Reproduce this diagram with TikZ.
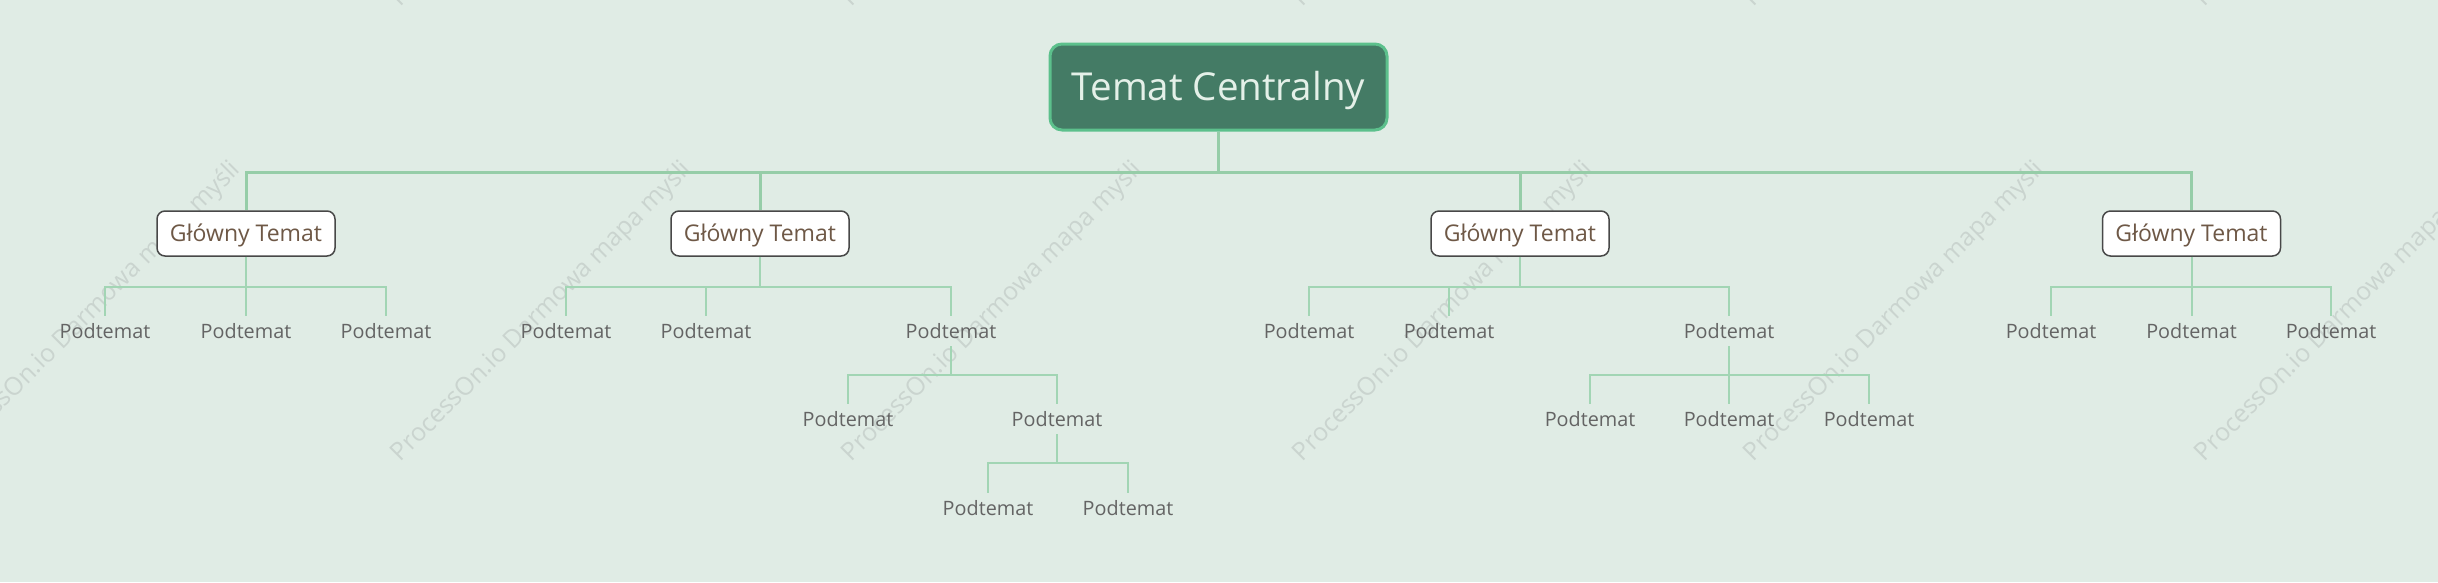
\documentclass[tikz,border=0pt]{standalone}
\usepackage{fontspec}
\setmainfont{Open Sans}
\usepackage{tikz}
\usetikzlibrary{positioning}
\definecolor{bgmint}{RGB}{224,236,229}
\definecolor{rootfill}{RGB}{68,123,101}
\definecolor{rootedge}{RGB}{92,192,140}
\definecolor{roottext}{RGB}{228,240,232}
\definecolor{mainedge}{RGB}{72,72,72}
\definecolor{maintext}{RGB}{110,88,70}
\definecolor{subtext}{RGB}{100,100,100}
\definecolor{linegreen}{RGB}{150,205,168}
\definecolor{sublinegreen}{RGB}{162,213,180}
\definecolor{wmgray}{RGB}{202,212,207}
\tikzset{every picture/.style={line width=0.75pt}}
\tikzset{
  rootbox/.style={draw=rootedge, line width=3, fill=rootfill, rounded corners=12,
    minimum width=337, minimum height=86, inner sep=0, text=roottext,
    text height=27.5, text depth=0, font=\fontsize{38.5}{46}\selectfont},
  mainbox/.style={draw=mainedge, line width=1.5, fill=white, rounded corners=8,
    minimum width=178, minimum height=45, inner sep=0, text=maintext,
    text height=16.5, text depth=0, font=\fontsize{23}{28}\selectfont},
  subtopic/.style={inner sep=0, minimum height=30, text=subtext,
    text height=14, text depth=0, font=\fontsize{19.8}{24}\selectfont},
  mainline/.style={draw=linegreen, line width=3},
  subline/.style={draw=sublinegreen, line width=2},
  watermark/.style={inner sep=0, rotate=45, text=wmgray,
    font=\fontsize{25}{30}\selectfont}
}

\begin{document}
\begin{tikzpicture}[x=1pt,y=1pt,yscale=-1,xscale=1]
    \useasboundingbox (0,0) rectangle (2438,582);
    \fill[bgmint] (0,0) rectangle (2438,582);
    % watermark
    \begin{scope}
    \clip (0,0) rectangle (2438,582);
    \foreach \wx [count=\k] in {91,542,993,1444,1895,2346} {
        \node[watermark] (wm-a\k) at (\wx,312) {ProcessOn.io Darmowa mapa myśli};
        \node[watermark] (wm-b\k) at (\wx,-143) {ProcessOn.io Darmowa mapa myśli};
    }
    \end{scope}
    % topics
    \node[rootbox] (root) at (1218.5,87) {Temat Centralny};
    \node[mainbox] (m1) at (246,233.5) {Główny Temat};
    \node[mainbox] (m2) at (760,233.5) {Główny Temat};
    \node[mainbox] (m3) at (1520,233.5) {Główny Temat};
    \node[mainbox] (m4) at (2191.5,233.5) {Główny Temat};
    % subtopics
    \node[subtopic] (s11) at (105,331) {Podtemat};
    \node[subtopic] (s12) at (246,331) {Podtemat};
    \node[subtopic] (s13) at (386,331) {Podtemat};
    \node[subtopic] (s21) at (566,331) {Podtemat};
    \node[subtopic] (s22) at (706,331) {Podtemat};
    \node[subtopic] (s23) at (951,331) {Podtemat};
    \node[subtopic] (s231) at (848,419) {Podtemat};
    \node[subtopic] (s232) at (1057,419) {Podtemat};
    \node[subtopic] (s2321) at (988,508) {Podtemat};
    \node[subtopic] (s2322) at (1128,508) {Podtemat};
    \node[subtopic] (s31) at (1309,331) {Podtemat};
    \node[subtopic] (s32) at (1449,331) {Podtemat};
    \node[subtopic] (s33) at (1729,331) {Podtemat};
    \node[subtopic] (s331) at (1590,419) {Podtemat};
    \node[subtopic] (s332) at (1729,419) {Podtemat};
    \node[subtopic] (s333) at (1869,419) {Podtemat};
    \node[subtopic] (s41) at (2051,331) {Podtemat};
    \node[subtopic] (s42) at (2191.5,331) {Podtemat};
    \node[subtopic] (s43) at (2331,331) {Podtemat};
    % connectors
    \foreach \m in {m1,m2,m3,m4}
        \draw[mainline] (root.south) -- ++(0,41) -| (\m.north);
    \foreach \s in {s11,s12,s13}
        \draw[subline] (m1.south) -- ++(0,30) -| (\s.north);
    \foreach \s in {s21,s22,s23}
        \draw[subline] (m2.south) -- ++(0,30) -| (\s.north);
    \foreach \s in {s31,s32,s33}
        \draw[subline] (m3.south) -- ++(0,30) -| (\s.north);
    \foreach \s in {s41,s42,s43}
        \draw[subline] (m4.south) -- ++(0,30) -| (\s.north);
    \foreach \s in {s231,s232}
        \draw[subline] (s23.south) -- ++(0,29) -| (\s.north);
    \foreach \s in {s2321,s2322}
        \draw[subline] (s232.south) -- ++(0,29) -| (\s.north);
    \foreach \s in {s331,s332,s333}
        \draw[subline] (s33.south) -- ++(0,29) -| (\s.north);
\end{tikzpicture}
\end{document}
